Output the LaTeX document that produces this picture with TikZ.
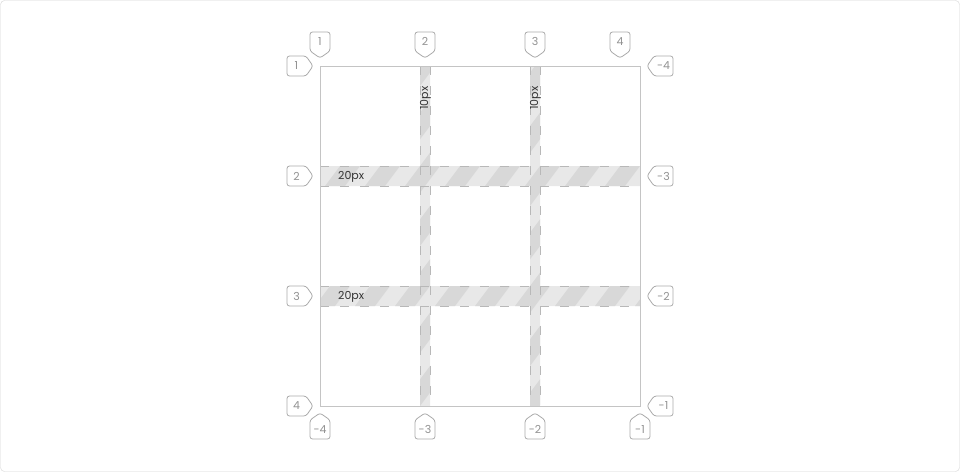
\documentclass[tikz,border=0pt]{standalone}
\usepackage{fontspec}
\setmainfont{Poppins}
\usepackage{tikz}

\definecolor{framegray}{HTML}{D4D4D4}
\definecolor{gridline}{HTML}{C4C4C4}
\definecolor{tagline}{HTML}{ABABAB}
\definecolor{tagink}{HTML}{929292}
\definecolor{gutterlight}{HTML}{E8E8E8}
\definecolor{gutterdark}{HTML}{D8D8D8}
\definecolor{gutterdash}{HTML}{B8B8B8}

% one numbered tag: name, tip, rotation, label
\newcommand{\gridtag}[4]{%
  \begin{scope}[shift={#2}, rotate=#3]
    \draw[tag] (0,0) -- (-10,-7) -- (-10,-26) -- (10,-26) -- (10,-7) -- cycle;
    \node[tagtext] (#1) at (0,-16.5) {#4};
  \end{scope}}

\begin{document}
\begin{tikzpicture}[x=1pt,y=-1pt,
  tag/.style={draw=tagline,line width=0.8pt,fill=white,rounded corners=2.5pt},
  tagtext/.style={text=tagink,inner sep=0pt,font=\fontsize{11}{13}\selectfont},
  gaptext/.style={text=black!80,inner sep=0pt,font=\fontsize{11}{13}\selectfont},
  gapline/.style={gutterdash,line width=0.8pt,dash pattern=on 9pt off 11pt}]
\path[use as bounding box] (0,0) rectangle (960,472);
\draw[framegray,rounded corners=4pt] (0.5,0.5) rectangle (959.5,471.5);

% gutters
\begin{scope}
  \clip (420,66) rectangle (430,406) (530,66) rectangle (540,406)
        (320,166) rectangle (640,186) (320,286) rectangle (640,306);
  \fill[gutterlight] (320,66) rectangle (640,406);
  \foreach \s in {0,40,...,680}
    \fill[gutterdark] (\s,406) -- ++(20,0) -- ++(255,-340) -- ++(-20,0) -- cycle;
\end{scope}
\foreach \y in {166,186,286,306}
  \draw[gapline] (320,\y) -- (640,\y);
\foreach \x in {420,430,530,540}
  \draw[gapline] (\x,66) -- (\x,406);

% container
\draw[gridline,line width=0.9pt] (320,66) rectangle (640,406);

% gap sizes
\node[gaptext,anchor=west] (rowgap1) at (338,176.5) {20px};
\node[gaptext,anchor=west] (rowgap2) at (338,296.5) {20px};
\node[gaptext,rotate=90] (colgap1) at (425.5,98) {10px};
\node[gaptext,rotate=90] (colgap2) at (535.5,98) {10px};

% line numbers
\foreach \x/\n in {320/1,425/2,535/3,620/4}
  \gridtag{top\n}{(\x,58)}{0}{\n};
\foreach \y/\n in {66/1,176/2,296/3,406/4}
  \gridtag{left\n}{(313,\y)}{90}{\n};
\foreach \y/\n [count=\i] in {66/-4,176/-3,296/-2,406/-1}
  \gridtag{right\i}{(647,\y)}{-90}{\n};
\foreach \x/\n [count=\i] in {320/-4,425/-3,535/-2,640/-1}
  \gridtag{bottom\i}{(\x,413)}{180}{\n};
\end{tikzpicture}
\end{document}
